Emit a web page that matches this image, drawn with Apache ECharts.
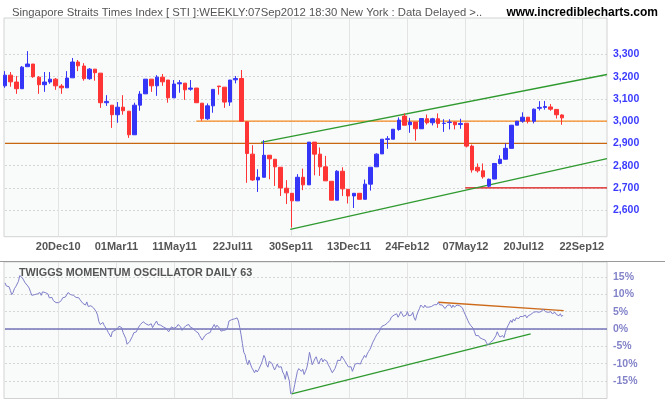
<!DOCTYPE html>
<html><head><meta charset="utf-8">
<script src="https://cdn.jsdelivr.net/npm/echarts@6/dist/echarts.min.js"></script>
<style>html,body{margin:0;padding:0;background:#fff}#c{width:665px;height:405px}</style>
</head><body><div id="c"></div>
<script>
// ---------- text ----------
const titleText = 'Singapore Straits Times Index [ STI ]:WEEKLY:07Sep2012 18:30 New York : Data Delayed >..';
const siteText = 'www.incrediblecharts.com';
const oscTitle = 'TWIGGS MOMENTUM OSCILLATOR DAILY 63';
const dateLabels = ['20Dec10','01Mar11','11May11','22Jul11','30Sep11','13Dec11','24Feb12','07May12','20Jul12','22Sep12'];

// ---------- weekly candles (100 weeks) ----------
const candleOpen = [3159,3207,3176,3146,3245,3257,3198,3164,3176,3189,3158,3150,3195,3266,3248,3191,3234,3216,3083,3072,
3029,3063,3045,2939,3072,3123,3189,3159,3198,3185,3105,3168,3171,3144,3149,3081,3011,3069,3158,3153,
3086,3186,3192,2997,2852,2736,2748,2847,2829,2793,2699,2676,2642,2748,2714,2906,2852,2795,2730,2645,
2775,2694,2664,2676,2649,2717,2795,2853,2918,2919,2963,3023,2984,2996,2966,3011,2993,3011,2990,2994,
2996,2985,2991,2888,2793,2777,2708,2740,2810,2829,2878,2982,3000,3018,3000,3058,3062,3064,3053,3028];
const candleClose = [3207,3177,3146,3243,3257,3200,3164,3176,3189,3159,3150,3194,3266,3249,3191,3234,3218,3083,3089,3029,
3063,3047,2939,3072,3122,3189,3159,3198,3177,3105,3167,3173,3141,3149,3083,3011,3069,3143,3155,3086,
3185,3192,3000,2855,2736,2748,2847,2831,2795,2700,2678,2642,2748,2714,2906,2852,2795,2732,2645,2775,
2696,2664,2676,2649,2717,2793,2852,2919,2921,2964,3005,2982,2996,2966,3012,2993,3011,2990,2991,2996,
2984,2990,2888,2781,2777,2750,2739,2810,2829,2878,2982,3000,3018,3000,3054,3062,3066,3054,3029,3015];
const candleLow = [3150,3155,3123,3146,3245,3195,3123,3132,3168,3141,3123,3150,3195,3225,3182,3186,3182,3060,3069,2970,
2993,3029,2925,2939,3047,3123,3132,3114,3159,3083,3105,3128,3096,3137,3083,3002,3006,3038,3119,3060,
3069,3170,3000,2723,2732,2682,2748,2739,2709,2664,2628,2522,2642,2690,2714,2757,2754,2732,2645,2645,
2664,2630,2610,2649,2649,2688,2795,2853,2876,2919,2957,2982,2948,2912,2966,2985,2981,2970,2952,2963,
2963,2966,2882,2769,2769,2742,2703,2740,2806,2829,2878,2982,2993,2990,2990,3048,3052,3047,3012,2984];
const candleHigh = [3225,3221,3203,3248,3315,3257,3203,3221,3221,3194,3167,3225,3284,3275,3261,3239,3234,3216,3117,3072,
3086,3117,3045,3083,3135,3189,3189,3207,3212,3185,3185,3185,3171,3185,3149,3081,3080,3143,3158,3153,
3185,3203,3230,2997,2892,2784,2915,2847,2829,2793,2735,2676,2762,2787,2906,2906,2882,2844,2730,2780,
2793,2694,2676,2676,2738,2793,2856,2919,2933,2964,3017,3035,3015,2996,3012,3030,3015,3035,3009,3009,
2996,3011,2991,2895,2810,2810,2742,2810,2847,2900,2982,3000,3040,3018,3057,3090,3091,3077,3053,3031];
const weekSlots = 108;

// ---------- price annotation lines [weekIndex, price] ----------
const resist3000 = [[34,3000],[107,3000]];
const level2900 = [[0,2900],[107,2900]];
const support2700 = [[81.8,2700],[107,2700]];
const upperTrend = [[45.5,2905],[107,3210]];
const lowerTrend = [[50.7,2514],[107,2832]];

// ---------- daily momentum oscillator (%) ----------
const oscValues = [
13.3,12.4,12.1,12.2,11.1,9.9,10.5,11.6,12.2,12.6,
13.7,15.4,15.6,14.7,14.5,13.3,12.8,12.4,11.8,10.7,
9.7,9.3,9.9,9.7,10.1,9.9,10.5,9.7,10.7,10.9,
10.5,10.7,10.1,9.0,8.6,9.1,8.2,7.8,7.6,7.8,
7.6,7.4,8.2,9.0,8.6,9.2,9.7,10.5,11.0,9.9,
9.5,9.7,9.5,9.1,9.3,9.0,8.4,8.6,7.4,7.0,
6.9,7.8,6.5,7.0,6.7,6.9,6.1,5.7,5.0,4.0,
2.1,1.3,1.5,1.9,1.0,1.1,-0.2,-1.0,-1.5,-2.3,
-0.8,-1.2,-0.4,-0.8,0.2,0.8,1.1,0.4,-1.0,-1.3,
-2.7,-4.4,-4.6,-3.6,-3.2,-2.1,-1.1,-0.6,-0.8,0.2,
0.6,1.3,1.5,2.1,2.3,1.5,1.7,1.1,0.6,1.5,
0.4,1.1,1.7,2.3,1.3,1.5,1.1,1.3,0.6,1.0,
0.2,0.4,-0.8,-0.2,0.6,0.8,0.2,0.4,0.6,1.3,
1.1,0.6,-0.4,0.2,0.4,1.0,1.5,1.3,0.6,0.8,
0.2,0,-0.6,-0.8,-1.1,-1.9,-2.3,-3.2,-2.9,-1.9,
-1.7,-1.3,-1.1,-1.0,0,0.2,1.3,0.4,1.1,1.5,
0.2,-0.6,-1.0,-0.4,-0.8,-0.2,0.6,2.3,2.1,2.7,
2.5,2.9,3.0,3.2,2.3,0.4,-1.7,-4.2,-6.7,-7.4,
-9.3,-10.3,-9.0,-9.5,-11.2,-11.8,-12.6,-11.8,-12.4,-11.8,
-11.4,-10.1,-9.0,-7.6,-8.4,-10.3,-11.0,-9.3,-9.0,-9.9,
-10.9,-11.8,-11.0,-10.1,-11.0,-11.4,-10.9,-12.4,-13.1,-14.5,
-12.2,-12.0,-15.0,-18.7,-18.7,-17.9,-16.0,-14.1,-12.2,-11.4,
-10.9,-12.2,-11.6,-13.1,-12.2,-11.2,-9.3,-6.7,-8.4,-10.3,
-9.5,-8.6,-8.0,-9.3,-10.1,-9.0,-8.4,-9.5,-8.8,-9.0,
-9.3,-10.3,-11.0,-11.2,-12.6,-12.2,-11.4,-10.3,-9.0,-8.6,
-9.1,-7.8,-8.0,-9.0,-9.1,-10.3,-10.9,-11.4,-10.9,-12.2,
-11.2,-10.1,-10.3,-9.9,-10.3,-10.1,-9.0,-8.4,-7.6,-8.2,
-7.2,-6.5,-5.9,-5.1,-4.0,-3.6,-2.5,-1.7,-1.7,-0.8,
0.2,0.8,1.0,1.1,1.5,1.7,1.5,2.5,3.4,3.4,
4.0,3.8,4.4,3.4,4.0,5.0,4.4,3.6,3.4,4.0,
5.0,3.8,3.4,4.0,4.8,3.2,2.5,4.0,5.0,5.9,
6.9,6.7,6.1,6.9,6.3,5.9,6.3,6.1,6.5,6.9,
7.0,7.2,7.0,7.7,7.0,6.7,6.9,7.2,5.9,6.1,
6.9,7.2,6.9,6.1,6.9,6.3,6.7,6.9,6.5,6.7,
7.0,6.1,5.1,4.6,3.4,2.5,1.7,1.1,0.8,0.2,
-0.8,-1.9,-2.1,-1.9,-2.5,-2.3,-2.9,-2.7,-3.2,-4.0,
-4.6,-4.2,-3.8,-3.4,-3.2,-2.7,-1.9,-0.8,-1.7,-2.3,
-2.3,-1.9,-2.5,-1.0,0.2,0.6,1.7,2.5,1.9,2.9,
2.3,3.2,2.9,3.0,3.6,3.2,3.6,4.0,4.0,3.2,
3.8,3.4,4.2,4.4,4.8,4.6,5.0,5.1,4.8,5.3,
5.1,5.7,5.5,5.0,5.1,4.8,5.0,5.0,4.4,4.6,
4.8,4.2,4.0,3.8,4.4,3.6,4.0];
const oscSlots = 448.8;
// oscillator annotation lines [sampleIndex, %]
const oscZero = [[0,0],[oscSlots,0]];
const oscSupport = [[213.7,-18.7],[391.9,-1.4]];
const oscResist = [[323,7.7],[416.5,5.3]];

// ---------- build ----------
const FONT = 'Liberation Sans';
const chart = echarts.init(document.getElementById('c'), null, {renderer:'canvas'});
const candleData = candleOpen.map((o,i)=>[o, candleClose[i], candleLow[i], candleHigh[i]]);
const weekCats = Array.from({length: weekSlots}, (_,i)=>String(i));
const oscData = oscValues.map((v,i)=>[i,v]);

const vGrid = {show:true, lineStyle:{color:'#e3e3e3', width:1}, showMinLine:false, showMaxLine:false};
const hGrid = {show:true, lineStyle:{color:'#d6d6d6', width:1, type:[2,2]}, showMinLine:false, showMaxLine:false};
const hidden = (gi)=>({gridIndex:gi, type:'value', show:false});
const seg = (data, xi, yi, color, w)=>({type:'line', xAxisIndex:xi, yAxisIndex:yi, data, showSymbol:false, silent:true,
  lineStyle:{color, width:w}, z:3, animation:false});

chart.setOption({
  animation:false,
  backgroundColor:'#ffffff',
  textStyle:{fontFamily:FONT},
  title:[
    {text:titleText, left:7, top:2, textStyle:{fontFamily:FONT, fontSize:11.3, fontWeight:'normal', color:'#555'}},
    {text:siteText, right:2, top:2, textStyle:{fontFamily:FONT, fontSize:12, fontWeight:'bold', color:'#000'}},
    {text:oscTitle, left:14, top:263, textStyle:{fontFamily:FONT, fontSize:10.8, fontWeight:'bold', color:'#555'}}
  ],
  graphic:[{type:'line', shape:{x1:0,y1:261.5,x2:665,y2:261.5}, style:{stroke:'#9a9a9a', lineWidth:1}, silent:true}],
  grid:[
    {left:4, top:18, width:603, height:218.7, show:true, backgroundColor:'#f9fafa', borderColor:'#d2d2d2', borderWidth:1},
    {left:-1.3, top:18, width:641.3, height:218.7},
    {left:5, top:32.2, width:602, height:200.25},
    {left:4, top:262, width:603, height:136.5, show:true, backgroundColor:'#f9fafa', borderColor:'#d2d2d2', borderWidth:1},
    {left:-1.3, top:262, width:641.3, height:136.5},
    {left:5, top:259.6, width:602, height:138.8}
  ],
  xAxis:[
    hidden(0),
    {gridIndex:1, type:'value', min:0, max:11, interval:1, axisLine:{show:false}, axisTick:{show:false}, splitLine:vGrid,
     axisLabel:{show:true, showMinLabel:false, showMaxLabel:false, margin:5, color:'#555', fontSize:11, fontWeight:'bold', fontFamily:FONT,
       formatter:(v)=>dateLabels[v-1]||''}},
    {gridIndex:2, type:'category', data:weekCats, boundaryGap:false, show:false},
    {gridIndex:2, type:'value', min:0, max:weekSlots-1, show:false},
    hidden(3),
    {gridIndex:4, type:'value', min:0, max:11, interval:1, axisLine:{show:false}, axisTick:{show:false}, axisLabel:{show:false}, splitLine:vGrid},
    {gridIndex:5, type:'value', min:0, max:oscSlots, show:false}
  ],
  yAxis:[
    hidden(0),
    hidden(1),
    {gridIndex:2, type:'value', min:2500, max:3400, interval:100, position:'right', axisLine:{show:false}, axisTick:{show:false},
     splitLine:hGrid,
     axisLabel:{showMinLabel:false, showMaxLabel:false, margin:6, color:'#3b3bff', fontSize:10.5, fontWeight:'bold', fontFamily:FONT,
       formatter:(v)=>v.toLocaleString('en-US')}},
    hidden(3),
    hidden(4),
    {gridIndex:5, type:'value', min:-20, max:20, interval:5, position:'right', axisLine:{show:false}, axisTick:{show:false},
     splitLine:hGrid,
     axisLabel:{showMinLabel:false, showMaxLabel:false, margin:6, color:'#8383c9', fontSize:10.5, fontWeight:'bold', fontFamily:FONT,
       formatter:(v)=>v+'%'}}
  ],
  series:[
    seg(level2900, 3, 2, '#c8670f', 1.3),
    seg(resist3000, 3, 2, '#f5891f', 1.3),
    seg(support2700, 3, 2, '#dd1111', 1.3),
    seg(upperTrend, 3, 2, '#2f9a2f', 1.4),
    seg(lowerTrend, 3, 2, '#2f9a2f', 1.4),
    {type:'candlestick', xAxisIndex:2, yAxisIndex:2, data:candleData, barWidth:4, silent:true, z:4,
     itemStyle:{color:'#3535f7', color0:'#ff3434', borderColor:'#3535f7', borderColor0:'#ff3434', borderWidth:1}},
    seg(oscZero, 6, 5, '#7373b8', 1.3),
    {type:'line', xAxisIndex:6, yAxisIndex:5, data:oscData, showSymbol:false, silent:true, z:4,
     lineStyle:{color:'#7f7fca', width:1}},
    seg(oscSupport, 6, 5, '#2f9a2f', 1.4),
    seg(oscResist, 6, 5, '#cc6a1a', 1.4)
  ]
});
</script></body></html>
